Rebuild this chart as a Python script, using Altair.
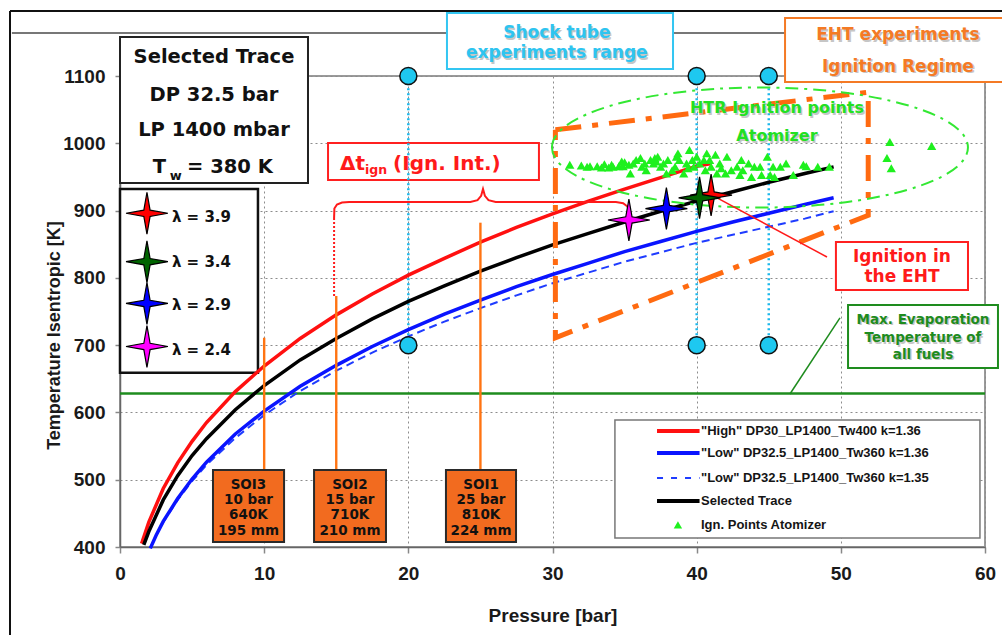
import altair as alt
import pandas as pd

# ---------------------------------------------------------------------------
# Isentropic compression traces: pressure [bar] -> temperature [K]
# ---------------------------------------------------------------------------
p_high = [1.5, 2, 3, 4, 5, 6, 8, 10, 12.5, 15, 17.5, 20, 22.5, 25, 27.5, 30,
          32.5, 35, 37.5, 40, 41]
t_high = [405, 437, 487, 525, 557, 585, 631, 669, 710, 745, 776, 804, 829, 853,
          875, 895, 914, 932, 949, 966, 970]

p_low = [2.1, 2.5, 3, 4, 5, 6, 8, 10, 12.5, 15, 17.5, 20, 22.5, 25, 27.5, 30,
         32.5, 35, 37.5, 40, 42.5, 45, 47.5, 49.5]
t_low_136 = [398, 417, 438, 472, 501, 526, 568, 602, 639, 670, 698, 723, 746,
             767, 787, 805, 822, 839, 854, 869, 883, 896, 909, 919]
t_low_135 = [399, 417, 437, 470, 498, 522, 562, 596, 632, 662, 689, 713, 735,
             755, 774, 792, 808, 824, 838, 852, 864, 876, 888, 899]

p_sel = [1.65, 2, 3, 4, 5, 6, 8, 10, 12.5, 15, 17.5, 20, 22.5, 25, 27.5, 30,
         32.5, 35, 37.5, 40, 42.5, 45, 47.5, 49.5]
t_sel = [403, 423, 470, 506, 536, 561, 604, 640, 678, 710, 739, 765, 788, 810,
         830, 849, 866, 883, 899, 914, 928, 942, 955, 965]

series_labels = ['"High" DP30_LP1400_Tw400  k=1.36',
                 '"Low" DP32.5_LP1400_Tw360 k=1.36',
                 '"Low" DP32.5_LP1400_Tw360 k=1.35',
                 'Selected Trace',
                 'Ign. Points Atomizer']

# HTR ignition points measured with the atomizer
ign_p = [31.2, 32.4, 32.6, 33.4, 33.9, 34.2, 34.6, 34.8, 34.9, 35.3, 35.4, 35.6,
         35.8, 36.1, 36.2, 36.4, 36.5, 36.8, 37.0, 37.1, 37.2, 37.3, 37.5, 37.7,
         37.9, 38.0, 38.3, 38.5, 38.6, 38.7, 38.8, 39.1, 39.3, 39.4, 39.5, 39.7,
         39.8, 40.0, 40.2, 40.5, 40.6, 40.7, 40.9, 41.0, 41.3, 41.4, 41.6, 41.7,
         42.0, 42.1, 42.4, 42.8, 43.0, 43.1, 43.2, 43.6, 43.8, 44.0, 44.4, 44.5,
         44.9, 45.1, 45.3, 45.4, 45.8, 46.2, 46.7, 47.4, 47.6, 48.4, 49.2, 53.2,
         53.4, 53.5, 56.3, 32.0, 33.1, 33.6, 34.1, 35.0]
ign_t = [968, 965, 966, 964, 964, 965, 966, 973, 966, 968, 955, 970,
         975, 978, 965, 970, 960, 975, 970, 978, 973, 980, 965, 970,
         955, 975, 960, 965, 980, 985, 975, 955, 970, 963, 990, 975,
         965, 980, 970, 975, 960, 985, 975, 965, 983, 955, 970, 963,
         955, 980, 960, 965, 953, 975, 960, 970, 950, 965, 965, 953,
         980, 953, 965, 950, 965, 970, 953, 968, 966, 965, 965, 978,
         1002, 963, 996, 967, 966, 969, 968, 972]

# Ignition on the selected trace for each air ratio
lam_labels = ["λ = 3.9", "λ = 3.4", "λ = 2.9", "λ = 2.4"]
lam_colors = ["#ff0000", "#006400", "#0000ff", "#ff00ff"]
lam_p = [41.0, 40.2, 37.9, 35.3]
lam_t = [923, 919, 903, 886]

# Start-of-injection points on the selected trace
soi_names = ["SOI3", "SOI2", "SOI1"]
soi_p = [10, 15, 25]
soi_t = [640, 710, 810]
soi_mm = [195, 210, 224]

# Shock tube experiment range
shock_p = [20, 40, 45]
shock_t = [700, 1100]

# Maximum evaporation temperature of all fuels
evap_t = 628

# EHT ignition regime outline (pressure, temperature)
eht_p = [30.2, 51.9, 51.9, 30.2, 30.2]
eht_t = [1020, 1076, 893, 711, 1020]

# ---------------------------------------------------------------------------
XS = alt.Scale(domain=[0, 60], nice=False, zero=False)
YS = alt.Scale(domain=[400, 1100], nice=False, zero=False)


def X(f="p"):
    return alt.X(f"{f}:Q", scale=XS)


def Y(f="t"):
    return alt.Y(f"{f}:Q", scale=YS)


def curve(p, t, color, width, dash=None):
    kw = dict(color=color, strokeWidth=width)
    if dash:
        kw["strokeDash"] = dash
    return alt.Chart(pd.DataFrame({"p": p, "t": t})).mark_line(**kw).encode(
        x=X(), y=Y())


def segments(rows, color, width, dash=None):
    kw = dict(color=color, strokeWidth=width)
    if dash:
        kw["strokeDash"] = dash
    df = pd.DataFrame(rows, columns=["p", "t", "p2", "t2"])
    return alt.Chart(df).mark_rule(**kw).encode(
        x=X(), y=Y(), x2=alt.X2("p2:Q"), y2=alt.Y2("t2:Q"))


GRID = dict(grid=True, gridDash=[2, 3], gridColor="#8c8c8c", gridWidth=1,
            domainColor="#666666", domainWidth=1.5, tickColor="#888888",
            tickWidth=1.5, labelFont="Liberation Sans", labelFontSize=19,
            labelFontWeight="bold", labelColor="#1a1a1a", labelFlush=False,
            titleFont="Liberation Sans", titleColor="#1a1a1a")

base = alt.Chart(pd.DataFrame({"p": [0, 60], "t": [evap_t, evap_t]})).mark_line(
    color="#1e8c1e", strokeWidth=2.5).encode(
    x=alt.X("p:Q", scale=XS, axis=alt.Axis(
        values=list(range(0, 61, 10)), format="d", title="Pressure [bar]",
        tickSize=6, labelPadding=11, titleFontSize=19, titleFontWeight="bold",
        titleY=68, titleBaseline="middle", **GRID)),
    y=alt.Y("t:Q", scale=YS, axis=alt.Axis(
        values=list(range(400, 1101, 100)), format="d",
        title="Temperature Isentropic [K]", tickSize=5, labelPadding=10,
        titleFontSize=18, titleFontWeight="bold", titleX=-66, titleY=259,
        titleBaseline="middle", titleAngle=270, **GRID)),
)

# page frame
frame = alt.layer(
    segments([(-7.63, 1196.6, 61.3, 1196.6), (-7.63, 1196.6, -7.63, 260)],
             "#111111", 2),
    segments([(-7.5, 1163.9, 61.3, 1163.9)], "#777777", 2),
)

# annotation boxes
box_rows = [
    (0, 13.04, 1158, 941, "#222222", "white", 2),
    (0, 9.57, 932, 659, "#111111", "white", 2.5),
    (22.68, 38.36, 1193.6, 1110.4, "#33c6f2", "white", 2),
    (46.13, 61.4, 1186.2, 1091.1, "#f47a25", "white", 2),
    (14.43, 29.06, 1000.4, 945.4, "#ff2020", "transparent", 2),
    (49.66, 58.82, 853.3, 782, "#ff2020", "white", 2),
    (50.5, 60.9, 759.7, 666, "#1e8c1e", "white", 2),
    (34.33, 59.65, 588.8, 413.4, "#777777", "white", 1.5),
]
soi_boxes = [
    (6.45, 11.38, 514.5, 407.5, "#2a2a2a", "#f26b1f", 2),
    (13.46, 18.45, 514.5, 407.5, "#2a2a2a", "#f26b1f", 2),
    (22.61, 27.47, 514.5, 407.5, "#2a2a2a", "#f26b1f", 2),
]


def rects(rows):
    return alt.Chart(pd.DataFrame(rows, columns=[
        "p", "p2", "t", "t2", "s", "f", "w"])).mark_rect().encode(
        x=X(), x2=alt.X2("p2:Q"), y=Y(), y2=alt.Y2("t2:Q"),
        stroke=alt.Stroke("s:N", scale=None), fill=alt.Fill("f:N", scale=None),
        strokeWidth=alt.StrokeWidth("w:Q", scale=None))


# shock tube range: dotted verticals with end markers
cyan_lines = segments([(p, shock_t[0], p, shock_t[1]) for p in shock_p],
                      "#1ab8ec", 2.5, [2, 3])
cyan_pts = alt.Chart(pd.DataFrame(
    {"p": shock_p * 2, "t": [shock_t[0]] * 3 + [shock_t[1]] * 3})).mark_point(
    shape="circle", filled=True, size=290, color="#1ec8f0", opacity=1,
    stroke="#111111", strokeWidth=1.5).encode(x=X(), y=Y())

curves = alt.layer(
    curve(p_low, t_low_135, "#1f3cff", 2, [8, 5]),
    curve(p_low, t_low_136, "#0a14ff", 3.5),
    curve(p_high, t_high, "#ff1010", 3.5),
    curve(p_sel, t_sel, "#000000", 3.5),
)

soi_lines = segments([(p, 514.5, p, top) for p, top in
                      zip(soi_p, [711, 773, 882])], "#ff7412", 2.4)

eht = alt.Chart(pd.DataFrame({"p": eht_p, "t": eht_t,
                              "o": range(len(eht_p))})).mark_line(
    color="#ff6a10", strokeWidth=5, strokeDash=[26, 11, 6, 11]).encode(
    x=X(), y=Y(), order="o:Q")

ELLIPSE = ("M-1,0 C-1,-0.1593 -0.5523,-0.2885 0,-0.2885 "
           "C0.5523,-0.2885 1,-0.1593 1,0 C1,0.1593 0.5523,0.2885 0,0.2885 "
           "C-0.5523,0.2885 -1,0.1593 -1,0 Z")
ellipse = alt.Chart(pd.DataFrame({"p": [44.39], "t": [993.7]})).mark_point(
    shape=ELLIPSE, size=173056, filled=False, color="#33e833", opacity=1,
    strokeWidth=2, strokeDash=[13, 6, 3, 6]).encode(x=X(), y=Y())

tri = alt.Chart(pd.DataFrame({"p": ign_p, "t": ign_t})).mark_point(
    shape="triangle-up", filled=True, size=85, color="#1ef01e",
    opacity=1).encode(x=X(), y=Y())

# ignition interval brace and pointer lines
brace_p = [14.85, 14.87, 15.05, 15.4, 15.9, 24.3, 24.8, 25.05, 25.18, 25.31,
           25.56, 26.06, 34.4, 34.9, 35.2, 35.35]
brace_t = [889, 903, 909, 912, 912.8, 912.8, 915.5, 922, 932, 922, 915.5,
           912.8, 912.8, 911, 906, 898]
brace = alt.Chart(pd.DataFrame({"p": brace_p, "t": brace_t,
                                "o": range(len(brace_p))})).mark_line(
    color="#ff1a1a", strokeWidth=2).encode(x=X(), y=Y(), order="o:Q")
brace_stem = segments([(14.85, 889, 14.85, 773)], "#ff1a1a", 2, [2, 2])
pointer_red = segments([(41.06, 923, 49.04, 831)], "#ff1a1a", 1.5)
pointer_green = segments([(46.47, 627.4, 49.94, 740.4)], "#1e8c1e", 1.5)

STAR = ("M0,-1 L0.15,-0.15 L1,0 L0.15,0.15 L0,1 L-0.15,0.15 L-1,0 "
        "L-0.15,-0.15 Z")
star_df = pd.DataFrame({
    "p": lam_p + [1.87] * 4,
    "t": lam_t + [896, 824, 762, 698],
    "c": lam_colors * 2,
})
stars = alt.Chart(star_df).mark_point(
    shape=STAR, filled=True, size=1750, opacity=1, strokeWidth=1.2).encode(
    x=X(), y=Y(), fill=alt.Fill("c:N", scale=None),
    stroke=alt.value("#000000"))

# legend samples (lower right)
leg_t = [572.4, 539.8, 502.6, 468.4, 432.7]
legend_marks = alt.layer(
    segments([(37.25, leg_t[0], 40.2, leg_t[0])], "#ff1010", 4),
    segments([(37.25, leg_t[1], 40.2, leg_t[1])], "#0a14ff", 4),
    segments([(37.25, leg_t[2], 40.2, leg_t[2])], "#1f3cff", 2, [6, 8]),
    segments([(37.25, leg_t[3], 40.2, leg_t[3])], "#000000", 4),
    alt.Chart(pd.DataFrame({"p": [38.7], "t": [leg_t[4]]})).mark_point(
        shape="triangle-up", filled=True, size=70, color="#1ef01e",
        opacity=1).encode(x=X(), y=Y()),
)

# centred bold labels
CYAN, ORANGE, RED, GREEN, HTR = "#2ec4f0", "#f47a25", "#ff1a1a", "#1e8c1e", "#22e022"
soi_rows_t = [492.2, 469.9, 447.6, 423.8]
center_rows = [
    ("Selected Trace", 6.52, 1128.2, "#111111", 19.5),
    ("DP 32.5 bar", 6.52, 1071.8, "#111111", 19.5),
    ("LP 1400 mbar", 6.52, 1019.8, "#111111", 19.5),
    ("Ignition in", 54.24, 831.5, RED, 17),
    ("the EHT", 54.24, 801.8, RED, 17),
]
shadow_rows = [
    ("Shock tube", 30.3, 1163.5, CYAN, 17),
    ("experiments range", 30.3, 1133.7, CYAN, 17),
    ("EHT experiments", 53.96, 1160.9, ORANGE, 17),
    ("Ignition Regime", 53.96, 1113.8, ORANGE, 17),
    ("HTR Ignition points", 45.57, 1052.4, HTR, 16),
    ("Atomizer", 45.57, 1010.8, HTR, 16),
    ("Max. Evaporation", 55.7, 737.4, GREEN, 13.5),
    ("Temperature of", 55.7, 710.6, GREEN, 13.5),
    ("all fuels", 55.7, 685.4, GREEN, 13.5),
]
for name, p, t, mm in zip(soi_names, soi_p, soi_t, soi_mm):
    cx = {10: 8.91, 15: 15.95, 25: 25.04}[p]
    for txt, ty in zip([name, f"{p} bar", f"{t}K", f"{mm} mm"], soi_rows_t):
        center_rows.append((txt, cx, ty, "#111111", 13.5))

COLS = ["txt", "p", "t", "c", "fs"]


def texts(rows, align="center", font="DejaVu Sans", weight="bold", **kw):
    return alt.Chart(pd.DataFrame(rows, columns=COLS)).mark_text(
        align=align, baseline="middle", font=font, fontWeight=weight,
        **kw).encode(x=X(), y=Y(), text="txt:N",
                     color=alt.Color("c:N", scale=None),
                     size=alt.Size("fs:Q", scale=None))


shadow = texts([(r[0], r[1], r[2], "#b8b8b8", r[4]) for r in shadow_rows],
               dx=1.5, dy=1.5, opacity=0.8)
centre = texts(center_rows + shadow_rows)

left_rows = [
    ("T", 2.27, 964.8, "#111111", 19.5),
    ("w", 3.45, 951.4, "#111111", 13),
    ("= 380 K", 4.65, 964.8, "#111111", 19.5),
    ("Δt", 15.26, 969.2, RED, 20),
    ("ign", 17.0, 960.3, RED, 12.5),
    ("(Ign. Int.)", 18.94, 969.2, RED, 20),
]
for lab, t in zip(lam_labels, [890, 823, 759, 693]):
    left_rows.append((lab, 3.6, t, "#111111", 15))
left = texts(left_rows, align="left")

legend_text = texts([(s, 40.3, t, "#151515", 13) for s, t in
                     zip(series_labels, leg_t)], align="left",
                    font="Liberation Sans", weight="bold")

chart = alt.layer(
    base, frame, rects(box_rows), cyan_lines, curves, soi_lines,
    rects(soi_boxes), eht, ellipse, tri,
    brace, brace_stem, pointer_red, pointer_green, stars, cyan_pts,
    legend_marks, shadow, centre, left, legend_text,
).properties(
    width=865, height=471,
    padding={"left": 120, "top": 76, "right": 17, "bottom": 88},
    autosize=alt.AutoSizeParams(type="none"),
    background="white",
).configure_view(stroke="#9a9a9a", strokeWidth=2)

chart.save("out.html", embed_options={"renderer": "svg", "actions": False})
